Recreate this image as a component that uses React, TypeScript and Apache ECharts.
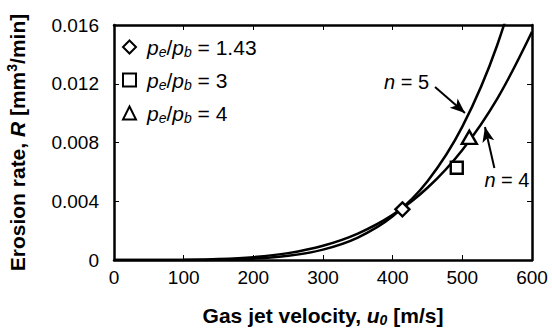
import React, { useEffect, useRef } from "react";
import * as echarts from "echarts";

// Gas jet velocity grid [m/s] on which the two curves are read
const uGrid = [0, 50, 100, 150, 200, 250, 300, 350, 400, 450, 500, 550, 600];
// Curve n = 4 (erosion rate, mm^3/min)
const rN4 = [0, 0.0000007, 0.000012, 0.0000607, 0.000192, 0.000468, 0.000971, 0.001799, 0.00307, 0.004917, 0.007494, 0.010972, 0.01554];
// Curve n = 5
const rN5 = [0, 0.0000001, 0.0000029, 0.000022, 0.000093, 0.000284, 0.000706, 0.001526, 0.002975, 0.005361, 0.009077, 0.014622, 0.0226];

// Measured points
const ratioLabels = ["1.43", "3", "4"];
const pointU = [414, 492, 510];
const pointR = [0.00345, 0.00628, 0.00835];

const xTicks = [0, 100, 200, 300, 400, 500, 600];
const yTickLabels = ["0", "0.004", "0.008", "0.012", "0.016"];

const FONT = "'Liberation Sans', Arial, sans-serif";
const symbols = ["diamond", "rect", "triangle"];
const symbolSizes = [[14, 14], [12, 12], [15, 13]];

export default function App() {
  const ref = useRef<HTMLDivElement>(null);
  useEffect(() => {
    if (!ref.current) return;
    const chart = echarts.init(ref.current, null, { renderer: "svg" });
    const names = ratioLabels.map((v) => "pe/pb = " + v);
    const richLegend = {
      i0: { fontStyle: "italic", fontSize: 21, lineHeight: 24, fontFamily: FONT, color: "#000", padding: [0, 0, 0, 6] },
      i: { fontStyle: "italic", fontSize: 21, lineHeight: 24, fontFamily: FONT, color: "#000" },
      s: { fontStyle: "italic", fontSize: 14, lineHeight: 24, fontFamily: FONT, color: "#000", verticalAlign: "bottom" },
      n: { fontSize: 21, lineHeight: 24, fontFamily: FONT, color: "#000" },
    };
    const axisCommon = {
      min: 0,
      axisLine: { show: true, onZero: false, lineStyle: { color: "#000", width: 2.5 } },
      axisTick: { show: true, inside: true, length: 5, lineStyle: { color: "#000", width: 1 } },
      splitLine: { show: false },
    };
    const curveLine = (name: string, vals: number[], extra: any) => ({
      type: "line",
      name,
      data: uGrid.map((u, i) => [u, vals[i]]),
      showSymbol: false,
      symbol: "none",
      smooth: 0.35,
      clip: true,
      lineStyle: { color: "#000", width: 2.5 },
      z: 2,
      ...extra,
    });
    const nLabel = (n: string) => `{i|n}{n| = ${n}}`;
    const richN = {
      i: { fontStyle: "italic", fontSize: 20, fontFamily: FONT, color: "#000" },
      n: { fontSize: 20, fontFamily: FONT, color: "#000" },
    };
    const arrow = {
      silent: true,
      symbol: ["none", "arrow"],
      symbolSize: [9, 15],
      lineStyle: { color: "#000", width: 2, type: "solid" },
      label: { show: false },
    };
    const labelPoint = {
      symbol: "rect",
      symbolSize: 1,
      itemStyle: { color: "rgba(0,0,0,0)" },
      label: { show: true, position: "inside", rich: richN },
    };
    chart.setOption({
      animation: false,
      backgroundColor: "#fff",
      grid: { left: 114, right: 20, top: 25, bottom: 69, outerBoundsMode: "none", containLabel: false },
      legend: {
        data: names,
        orient: "vertical",
        left: 122,
        top: 35,
        itemWidth: 13,
        itemHeight: 13,
        itemGap: 9,
        itemTextGap: 15,
        padding: 0,
        textStyle: { fontSize: 21, lineHeight: 24, fontFamily: FONT, color: "#000", rich: richLegend },
        formatter: (name: string) => {
          const v = name.split("= ")[1];
          return `{i0|p}{s|e}{n|/}{i|p}{s|b}{n| = ${v}}`;
        },
        selectedMode: false,
      },
      xAxis: [
        {
          ...axisCommon,
          type: "value",
          max: 600,
          interval: 100,
          position: "bottom",
          axisLabel: {
            color: "#000",
            fontSize: 19,
            fontFamily: FONT,
            margin: 8,
            formatter: (v: number) => (xTicks.includes(v) ? String(v) : ""),
          },
          name: "{b|Gas jet velocity, }{bi|u}{bs|0}{b| [m/s]}",
          nameLocation: "middle",
          nameGap: 44,
          nameTextStyle: {
            rich: {
              b: { fontWeight: "bold", fontSize: 21, fontFamily: FONT, color: "#000" },
              bi: { fontWeight: "bold", fontStyle: "italic", fontSize: 21, fontFamily: FONT, color: "#000" },
              bs: { fontWeight: "bold", fontStyle: "italic", fontSize: 14, fontFamily: FONT, color: "#000", padding: [9, 0, 0, 0] },
            },
          },
        },
        {
          ...axisCommon,
          type: "value",
          max: 600,
          interval: 100,
          position: "top",
          axisLabel: { show: false },
        },
      ],
      yAxis: [
        {
          ...axisCommon,
          type: "value",
          max: 0.016,
          interval: 0.004,
          position: "left",
          axisLabel: {
            color: "#000",
            fontSize: 19,
            fontFamily: FONT,
            margin: 15,
            formatter: (v: number) => yTickLabels[Math.round(v / 0.004)] ?? "",
          },
          name: "{b|Erosion rate, }{bi|R}{b| [mm}{sup|3}{b|/min]}",
          nameLocation: "middle",
          nameGap: 85,
          nameTextStyle: {
            rich: {
              b: { fontWeight: "bold", fontSize: 21, fontFamily: FONT, color: "#000" },
              bi: { fontWeight: "bold", fontStyle: "italic", fontSize: 21, fontFamily: FONT, color: "#000" },
              sup: { fontWeight: "bold", fontSize: 14, fontFamily: FONT, color: "#000", padding: [0, 0, 10, 0] },
            },
          },
        },
        {
          ...axisCommon,
          type: "value",
          max: 0.016,
          interval: 0.004,
          position: "right",
          axisLabel: { show: false },
        },
      ],
      series: [
        curveLine("n5", rN5, {
          markLine: { ...arrow, data: [[{ coord: [460.8, 0.01178] }, { coord: [503.8, 0.01001] }]] },
          markPoint: { ...labelPoint, label: { ...labelPoint.label, formatter: nLabel("5") }, data: [{ coord: [420, 0.01212] }] },
        }),
        curveLine("n4", rN4, {
          markLine: { ...arrow, data: [[{ coord: [546, 0.00626] }, { coord: [532.5, 0.009055] }]] },
          markPoint: { ...labelPoint, label: { ...labelPoint.label, formatter: nLabel("4") }, data: [{ coord: [564, 0.00545] }] },
        }),
        ...names.map((name, i) => ({
          type: "scatter",
          name,
          data: [[pointU[i], pointR[i]]],
          symbol: symbols[i],
          symbolSize: symbolSizes[i],
          itemStyle: { color: "#fff", borderColor: "#000", borderWidth: 2.4, opacity: 1 },
          z: 5,
        })),
      ],
    });
    return () => chart.dispose();
  }, []);
  return <div ref={ref} style={{ width: 552, height: 329, position: "absolute", left: 0, top: 0 }} />;
}
